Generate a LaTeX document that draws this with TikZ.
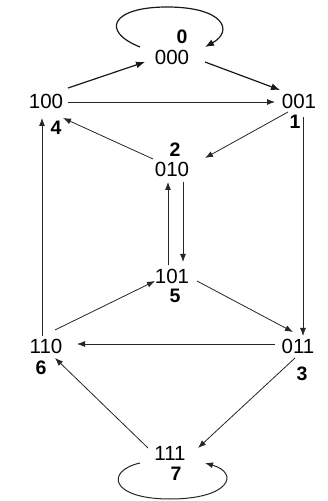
\documentclass[tikz,border=0pt]{standalone}
\usepackage{fontspec}
\setmainfont{Liberation Sans}
\usetikzlibrary{arrows.meta,calc}
\begin{document}
\begin{tikzpicture}[x=1pt,y=1pt,
  state/.style={inner sep=0pt,font=\fontsize{20.5}{22}\selectfont},
  num/.style={inner sep=0pt,font=\fontsize{19.5}{21}\selectfont\bfseries},
  edge/.style={draw=black!85,line width=0.8pt,-{Latex[length=8pt,width=6pt]}},
  thick edge/.style={draw=black!90,line width=1.2pt,-{Latex[length=9pt,width=7pt]}}]
\useasboundingbox[fill=white] (0,0) rectangle (327,501);
% states
\node[state] (n000) at (172,443.5) {000};
\node[state] (n100) at (46,400) {100};
\node[state] (n001) at (299,400) {001};
\node[state] (n010) at (172,332) {010};
\node[state] (n101) at (172,225) {101};
\node[state] (n110) at (46,155) {110};
\node[state] (n011) at (298,155) {011};
\node[state] (n111) at (170,48) {111};
% numbers
\node[num] (l0) at (182,464.5) {0};
\node[num] (l4) at (56,373) {4};
\node[num] (l1) at (295,379) {1};
\node[num] (l2) at (175,351) {2};
\node[num] (l5) at (175,205) {5};
\node[num] (l6) at (41,133) {6};
\node[num] (l3) at (302,127) {3};
\node[num] (l7) at (176,27) {7};
% edges
\draw[thick edge] ($(n100)+(22,13)$) -- ($(n000)+(-27,-4.5)$);
\draw[thick edge] ($(n000)+(33,-4.5)$) -- ($(n001)+(-19,11)$);
\draw[edge] ($(n100)+(22,-1)$) -- ($(n001)+(-24,-1)$);
\draw[edge] ($(n001)+(-11,-11)$) -- ($(n010)+(33,11)$);
\draw[edge] ($(n010)+(-19,10)$) -- ($(n100)+(17,-17)$);
\draw[edge] ($(n101)+(-4,11)$) -- ($(n010)+(-4,-13)$);
\draw[edge] ($(n010)+(11,-13)$) -- ($(n101)+(11,14)$);
\draw[edge] ($(n110)+(9,16)$) -- ($(n101)+(-17,-5)$);
\draw[edge] ($(n101)+(25,-5)$) -- ($(n011)+(-5,14)$);
\draw[edge] ($(n001)+(4,-16)$) -- ($(n011)+(5,10)$);
\draw[edge] ($(n110)+(-4,10)$) -- ($(n100)+(-4,-17)$);
\draw[edge] ($(n011)+(-23,2)$) -- ($(n110)+(31,2)$);
\draw[edge] ($(n011)+(-3,-12)$) -- ($(n111)+(28,5)$);
\draw[edge] ($(n111)+(-22,5)$) -- ($(n110)+(9,-12)$);
% self loops
\draw[thick edge] ($(n000)+(-32,10.5)$) .. controls (100,470) and (112,494) .. (167,494)
  .. controls (224,494) and (234,470) .. ($(n000)+(33,10.5)$);
\draw[edge,line width=1pt] ($(n111)+(-30,-10)$) .. controls (105,30) and (110,2) .. (170,2)
  .. controls (230,2) and (240,28) .. ($(n111)+(35,-10)$);
\end{tikzpicture}
\end{document}
